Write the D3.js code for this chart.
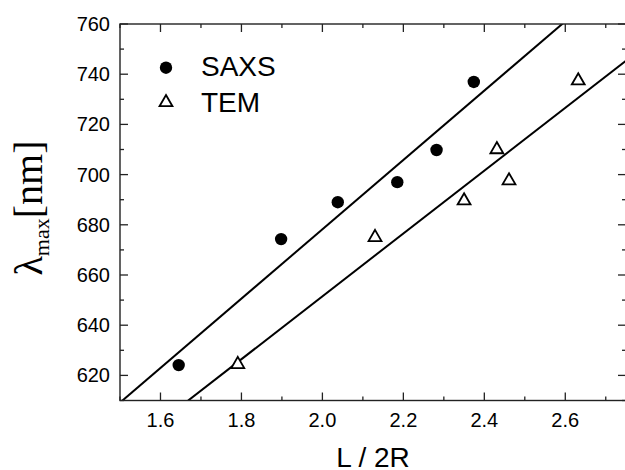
<!DOCTYPE html>
<meta charset="utf-8">
<script src="https://d3js.org/d3.v7.min.js"></script>
<style>
  body { margin: 0; background: #fff; }
  text { font-family: "Liberation Sans", Arial, sans-serif; fill: #000; }
</style>
<body>
<script>
// data
var saxsX = [1.645, 1.898, 2.038, 2.185, 2.282, 2.374];
var saxsY = [624.1, 674.3, 689.0, 697.0, 709.8, 736.9];
var temX = [1.791, 2.130, 2.350, 2.431, 2.461, 2.632];
var temY = [624.0, 674.6, 689.2, 709.6, 697.2, 737.0];
// linear fits: [intercept, slope]
var saxsFit = [402.0, 138.1];
var temFit = [401.1, 125.2];
var xTicks = [1.6, 1.8, 2.0, 2.2, 2.4, 2.6];
var yTicks = [620, 640, 660, 680, 700, 720, 740, 760];

var W = 625, H = 470;
var pL = 120, pR = 626, pT = 24, pB = 400.5;

var svg = d3.select("body").append("svg")
  .attr("width", W).attr("height", H);

var x = d3.scaleLinear().domain([1.5, 2.75]).range([pL, pR]);
var y = d3.scaleLinear().domain([610, 760]).range([pB, pT]);

svg.append("clipPath").attr("id", "plot")
  .append("rect").attr("x", pL).attr("y", pT)
  .attr("width", pR - pL).attr("height", pB - pT);

// fit lines
function fitLine(f) {
  var xs = [1.5, 2.75];
  return d3.line()
    .x(function(d) { return x(d); })
    .y(function(d) { return y(f[0] + f[1] * d); })(xs);
}
[saxsFit, temFit].forEach(function(f) {
  svg.append("path").attr("d", fitLine(f))
    .attr("clip-path", "url(#plot)")
    .style("fill", "none").style("stroke", "#000").style("stroke-width", 2);
});

// frame
svg.append("rect")
  .attr("x", pL).attr("y", pT)
  .attr("width", pR - pL).attr("height", pB - pT)
  .style("fill", "none").style("stroke", "#222").style("stroke-width", 1.4);

// ticks (inward, all four sides)
var xMinor = d3.range(1.5, 2.76, 0.1).map(function(d) { return +d.toFixed(2); });
var yMinor = d3.range(610, 761, 10);
var tk = svg.append("g").style("stroke", "#222").style("stroke-width", 1.3);
xMinor.forEach(function(v) {
  var major = xTicks.some(function(t) { return Math.abs(t - v) < 1e-6; });
  var len = major ? 8 : 4;
  tk.append("line").attr("x1", x(v)).attr("x2", x(v)).attr("y1", pB).attr("y2", pB - len);
  tk.append("line").attr("x1", x(v)).attr("x2", x(v)).attr("y1", pT).attr("y2", pT + len);
});
yMinor.forEach(function(v) {
  var major = yTicks.indexOf(v) >= 0;
  var len = major ? 8 : 4;
  tk.append("line").attr("y1", y(v)).attr("y2", y(v)).attr("x1", pL).attr("x2", pL + len);
  tk.append("line").attr("y1", y(v)).attr("y2", y(v)).attr("x1", pR).attr("x2", pR - len);
});

// tick labels
svg.selectAll(".xl").data(xTicks).enter().append("text")
  .attr("x", function(d) { return x(d); })
  .attr("y", 427)
  .attr("text-anchor", "middle")
  .style("font-size", "20px")
  .text(function(d) { return d.toFixed(1); });

svg.selectAll(".yl").data(yTicks).enter().append("text")
  .attr("x", pL - 10)
  .attr("y", function(d) { return y(d); })
  .attr("dy", "0.35em")
  .attr("text-anchor", "end")
  .style("font-size", "20px")
  .text(function(d) { return d; });

// axis titles
svg.append("text")
  .attr("x", (pL + pR) / 2).attr("y", 467)
  .attr("text-anchor", "middle")
  .style("font-size", "28px")
  .text("L / 2R");

var yt = svg.append("text")
  .attr("transform", "translate(42,208) rotate(-90)")
  .attr("text-anchor", "middle")
  .style("font-family", "'Liberation Serif', 'Times New Roman', serif");
yt.append("tspan").style("font-size", "40px").text("λ");
yt.append("tspan").style("font-size", "22px").attr("dy", 7).text("max");
yt.append("tspan").style("font-size", "40px").attr("dy", -7).text("[nm]");

// markers
var tri = d3.symbol().type(d3.symbolTriangle).size(72);

svg.selectAll(".saxs").data(saxsX).enter().append("circle")
  .attr("cx", function(d) { return x(d); })
  .attr("cy", function(d, i) { return y(saxsY[i]); })
  .attr("r", 6.2)
  .style("fill", "#000");

svg.selectAll(".tem").data(temX).enter().append("path")
  .attr("d", tri)
  .attr("transform", function(d, i) { return "translate(" + x(d) + "," + (y(temY[i]) - 1) + ")"; })
  .style("fill", "#fff").style("stroke", "#000").style("stroke-width", 1.8);

// legend
svg.append("circle").attr("cx", 166).attr("cy", 67.7).attr("r", 6.2).style("fill", "#000");
svg.append("path").attr("d", tri)
  .attr("transform", "translate(166,102.5)")
  .style("fill", "#fff").style("stroke", "#000").style("stroke-width", 1.8);
svg.append("text").attr("x", 201).attr("y", 75.5).style("font-size", "28px").text("SAXS");
svg.append("text").attr("x", 201).attr("y", 111.5).style("font-size", "28px").text("TEM");
</script>
</body>
